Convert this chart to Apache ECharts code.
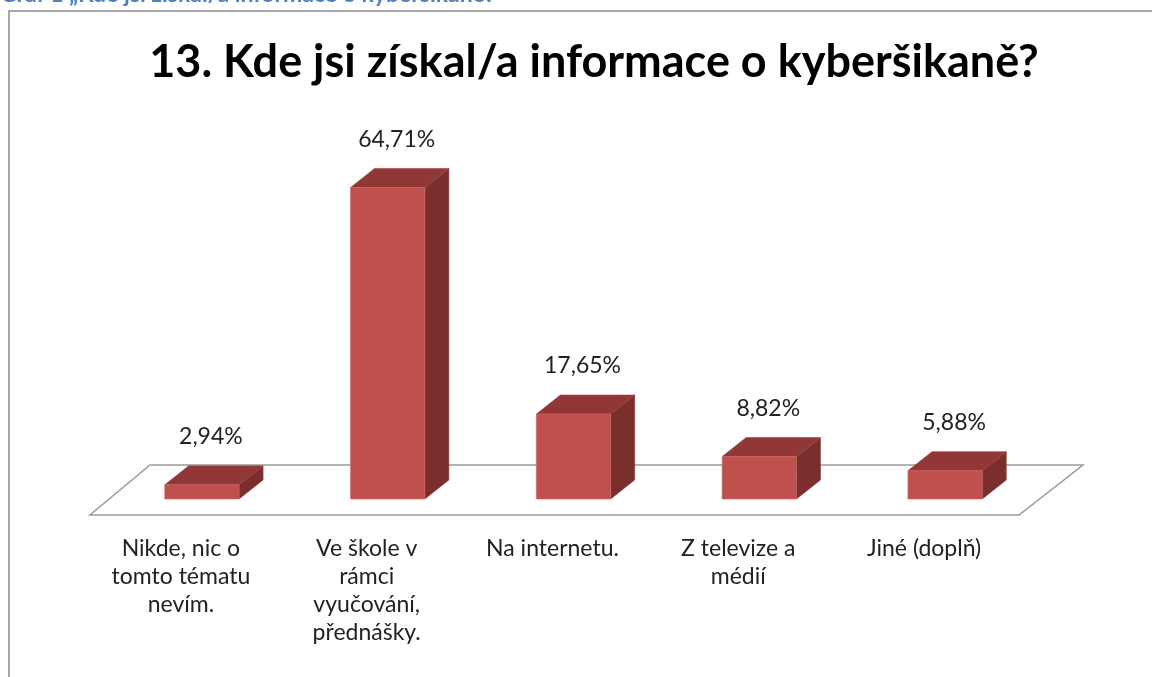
<!DOCTYPE html>
<html>
<head>
<meta charset="utf-8">
<script src="https://cdn.jsdelivr.net/npm/echarts@6/dist/echarts.min.js"></script>
<style>
  html, body { margin: 0; padding: 0; background: #fff; }
  #chart { width: 1152px; height: 677px; }
</style>
</head>
<body>
<div id="chart"></div>
<script>
// data
const categories = [
  'Nikde, nic o\ntomto tématu\nnevím.',
  'Ve škole v\nrámci\nvyučování,\npřednášky.',
  'Na internetu.',
  'Z televize a\nmédií',
  'Jiné (doplň)'
]
const shares = [2.94, 64.71, 17.65, 8.82, 5.88]

const FONT = 'Lato, "Open Sans", sans-serif'
const DEPTH_X = 24
const DEPTH_Y = -19

function pct (v) {
  return v.toFixed(2).replace('.', ',') + '%'
}

function renderFloor (params, api) {
  const band = api.size([1, 0])[0]
  const first = api.coord([0, 0])
  const last = api.coord([categories.length - 1, 0])
  const left = first[0] - band / 2
  const right = last[0] + band / 2
  const y0 = first[1]
  return {
    type: 'polygon',
    shape: {
      points: [
        [left - 19, y0 + 16],
        [right - 19, y0 + 16],
        [right + 45, y0 - 34],
        [left + 41, y0 - 34]
      ]
    },
    style: { fill: '#fff', stroke: '#9a9a9a', lineWidth: 1.5 }
  }
}

function renderBar (params, api) {
  const idx = api.value(0)
  const base = api.coord([idx, 0])
  const top = api.coord([idx, api.value(1)])
  const w = api.size([1, 0])[0] * 0.4
  const x0 = base[0] - w / 2
  const x1 = base[0] + w / 2
  const yb = base[1]
  const yt = top[1]
  return {
    type: 'group',
    children: [
      {
        type: 'polygon',
        shape: { points: [[x1, yt], [x1 + DEPTH_X, yt + DEPTH_Y], [x1 + DEPTH_X, yb + DEPTH_Y], [x1, yb]] },
        style: { fill: '#7a2f2d', stroke: '#8a3a38', lineWidth: 0.6 }
      },
      {
        type: 'polygon',
        shape: { points: [[x0, yt], [x1, yt], [x1 + DEPTH_X, yt + DEPTH_Y], [x0 + DEPTH_X, yt + DEPTH_Y]] },
        style: { fill: '#913735', stroke: '#a04442', lineWidth: 0.6 }
      },
      {
        type: 'rect',
        shape: { x: x0, y: yt, width: w, height: yb - yt },
        style: { fill: '#c0504d', stroke: '#cf6a67', lineWidth: 0.6 }
      },
      {
        type: 'text',
        x: base[0] + 9,
        y: yt - 48,
        style: {
          text: pct(api.value(1)),
          fill: '#222',
          font: '23px ' + FONT,
          align: 'center',
          verticalAlign: 'middle'
        }
      }
    ]
  }
}

const chart = echarts.init(document.getElementById('chart'))
chart.setOption({
  animation: false,
  title: {
    text: '13. Kde jsi získal/a informace o kyberšikaně?',
    left: 589,
    textAlign: 'center',
    top: 35,
    textStyle: { fontFamily: FONT, fontSize: 45, fontWeight: 'bold', color: '#000' }
  },
  graphic: [
    {
      type: 'rect',
      shape: { x: 9, y: 11, width: 1200, height: 700 },
      style: { fill: 'none', stroke: '#8c8c8c', lineWidth: 1.5 },
      z: -10
    },
    {
      type: 'text',
      left: 0,
      top: -17,
      style: {
        text: 'Graf 1 „Kde jsi získal/a informace o kyberšikaně?',
        fill: '#4f81bd',
        font: 'bold 23px ' + FONT
      }
    }
  ],
  grid: { left: 109, right: 114, top: 162, bottom: 178 },
  xAxis: {
    type: 'category',
    data: categories,
    axisLine: { show: false },
    axisTick: { show: false },
    axisLabel: {
      interval: 0,
      margin: 36,
      color: '#222',
      fontFamily: FONT,
      fontSize: 23,
      lineHeight: 28,
      align: 'center',
      padding: [0, 42, 0, 0]
    }
  },
  yAxis: { type: 'value', min: 0, max: 70, show: false },
  series: [
    {
      type: 'custom',
      renderItem: renderFloor,
      data: [[0, 0]],
      z: 1,
      silent: true
    },
    {
      type: 'custom',
      renderItem: renderBar,
      data: shares.map((v, i) => [i, v]),
      z: 2
    }
  ]
})
</script>
</body>
</html>
